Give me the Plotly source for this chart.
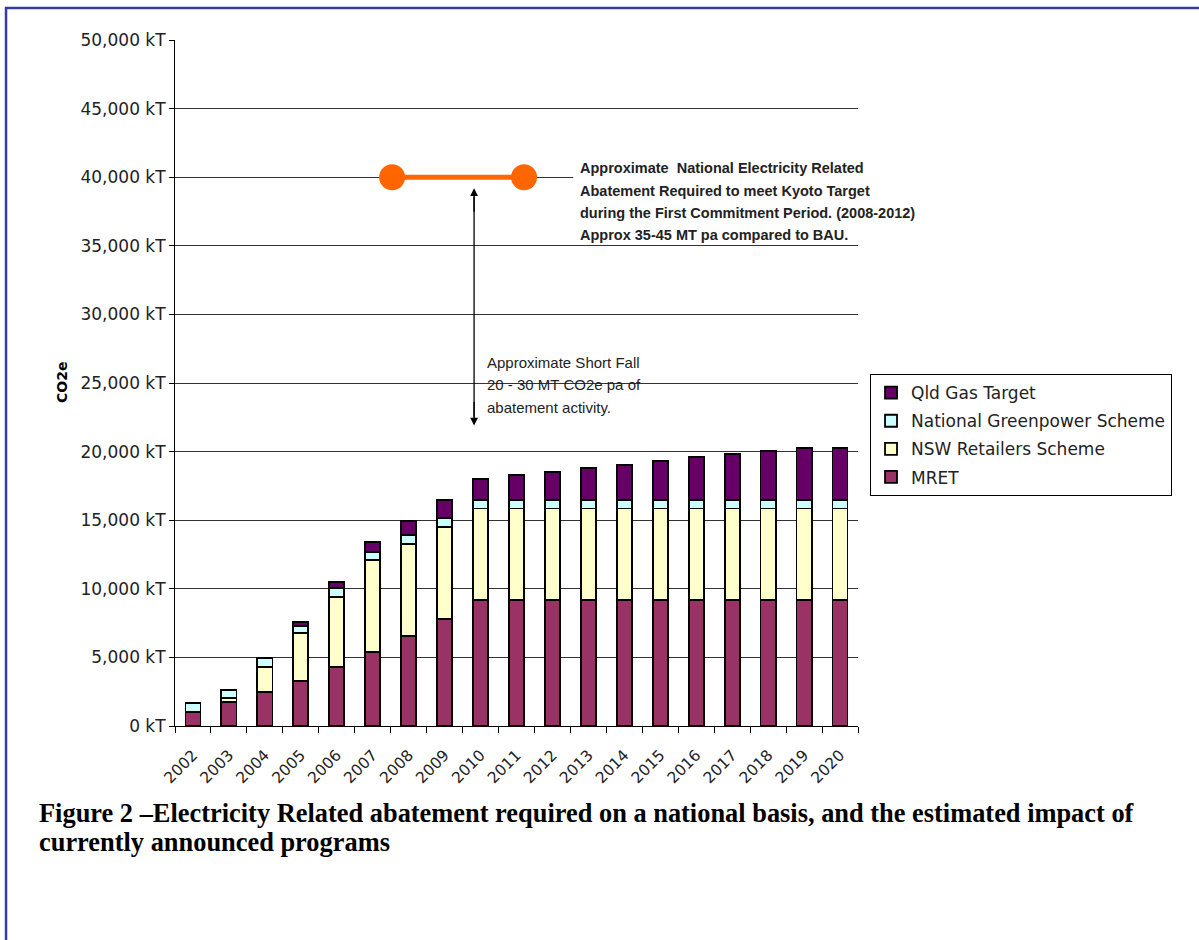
import plotly.graph_objects as go

years = list(range(2002, 2021))
year_labels = [str(y) for y in years]

mret = [1040, 1750, 2500, 3300, 4320, 5370, 6560, 7820, 9160, 9160, 9160, 9160, 9160, 9160, 9160, 9160, 9160, 9160, 9160]
nsw = [0, 320, 1820, 3450, 5060, 6730, 6720, 6710, 6700, 6700, 6700, 6700, 6700, 6700, 6700, 6700, 6700, 6700, 6700]
greenpower = [660, 550, 640, 560, 650, 600, 620, 610, 610, 610, 610, 610, 610, 610, 610, 610, 610, 610, 610]
qld_gas = [0, 0, 0, 250, 490, 730, 1030, 1310, 1530, 1800, 2070, 2330, 2550, 2820, 3110, 3330, 3600, 3790, 3790]

series_names = ["MRET", "NSW Retailers Scheme", "National Greenpower Scheme", "Qld Gas Target"]
series_values = [mret, nsw, greenpower, qld_gas]
series_colors = ["#993366", "#FFFFCC", "#CCFFFF", "#660066"]

kyoto_x = [2007.54, 2011.21]
kyoto_y = [40000, 40000]

arrow_x = 2009.82
arrow_top = 39200
arrow_bottom = 21900

y_ticks = list(range(0, 50001, 5000))
y_tick_labels = [f"{v:,} kT" for v in y_ticks]

kyoto_note = [
    "Approximate  National Electricity Related",
    "Abatement Required to meet Kyoto Target",
    "during the First Commitment Period. (2008-2012)",
    "Approx 35-45 MT pa compared to BAU.",
]
shortfall_note = [
    "Approximate Short Fall",
    "20 - 30 MT CO2e pa of",
    "abatement activity.",
]
caption_lines = [
    "Figure 2 –Electricity Related abatement required on a national basis, and the estimated impact of",
    "currently announced programs",
]

FONT = "Verdana, DejaVu Sans, sans-serif"
NOTE_FONT = "Tahoma, Liberation Sans, sans-serif"

fig = go.Figure()
n = len(series_names)
for i, (name, vals, col) in enumerate(zip(series_names, series_values, series_colors)):
    fig.add_trace(go.Bar(
        x=years, y=vals, name=name, width=0.42, legendgroup=name, legendrank=n - i,
        marker=dict(color=col, line=dict(color="#000000", width=1.8)),
    ))

fig.add_trace(go.Scatter(
    x=kyoto_x, y=kyoto_y, mode="lines+markers", showlegend=False,
    line=dict(color="#FF6600", width=5),
    marker=dict(color="#FF6600", size=26),
))

annotations = [
    dict(x=arrow_x, y=arrow_top, ax=0, ay=25, xref="x", yref="y",
         showarrow=True, arrowhead=2, arrowsize=1.2,
         arrowwidth=1.3, arrowcolor="#000000", text=""),
    dict(x=arrow_x, y=arrow_bottom, ax=0, ay=-25, xref="x", yref="y",
         showarrow=True, arrowhead=2, arrowsize=1.2,
         arrowwidth=1.3, arrowcolor="#000000", text=""),
    dict(x=-0.1654, y=0.5, xref="paper", yref="paper", xanchor="center", yanchor="middle",
         textangle=-90, showarrow=False,
         text="<b>CO2e</b>", font=dict(family=FONT, size=14, color="#000000")),
]

kyoto_y_pos = [0.8134, 0.7799, 0.7478, 0.7157]
for line, yp in zip(kyoto_note, kyoto_y_pos):
    annotations.append(dict(x=0.5900, y=yp, xref="paper", yref="paper", xanchor="left",
                            yanchor="middle", showarrow=False, text=f"<b>{line}</b>",
                            font=dict(family=NOTE_FONT, size=14.5, color="#222222")))

short_y_pos = [0.5292, 0.4971, 0.4650]
for line, yp in zip(shortfall_note, short_y_pos):
    annotations.append(dict(x=0.4539, y=yp, xref="paper", yref="paper", xanchor="left",
                            yanchor="middle", showarrow=False, text=line,
                            font=dict(family=NOTE_FONT, size=15, color="#222222")))

caption_y_pos = [-0.1268, -0.1691]
for line, yp in zip(caption_lines, caption_y_pos):
    annotations.append(dict(x=-0.2020, y=yp, xref="paper", yref="paper", xanchor="left",
                            yanchor="middle", showarrow=False, text=f"<b>{line}</b>",
                            font=dict(family="Liberation Serif, Times New Roman, serif",
                                      size=26.4, color="#000000")))

shapes = [
    dict(type="rect", xref="paper", yref="paper", x0=-0.2474, x1=1.508, y0=-0.33, y1=1.0466,
         line=dict(color="#3A3A9A", width=2.5), fillcolor="rgba(0,0,0,0)", layer="above"),
    dict(type="rect", xref="paper", yref="paper", x0=0.583, x1=1.0, y0=0.705, y1=0.83,
         line=dict(width=0), fillcolor="white", layer="above"),
    dict(type="line", xref="x", yref="y", x0=arrow_x, x1=arrow_x, y0=arrow_bottom + 600,
         y1=arrow_top - 600, line=dict(color="#000000", width=1.3), layer="above"),
]

fig.update_layout(
    width=1199, height=940,
    margin=dict(l=175, r=341, t=40, b=214),
    paper_bgcolor="white", plot_bgcolor="white",
    barmode="stack",
    font=dict(family=FONT, color="#222222"),
    xaxis=dict(
        range=[2001.5, 2020.5], tickvals=years, ticktext=year_labels,
        tickangle=-45, ticks="outside", ticklen=13, tickcolor="rgba(0,0,0,0)",
        showgrid=False, zeroline=False,
        showline=True, linecolor="#000000", linewidth=1,
        tickfont=dict(family=FONT, size=15.5, color="#222222"),
        minor=dict(tickvals=[y + 0.5 for y in range(2001, 2021)], ticks="outside",
                   ticklen=6, tickcolor="#000000", showgrid=False),
    ),
    yaxis=dict(
        range=[0, 50000], tickvals=y_ticks, ticktext=y_tick_labels,
        showgrid=True, gridcolor="#333333", gridwidth=1, zeroline=False,
        showline=True, linecolor="#000000", linewidth=1,
        ticks="outside", ticklen=5, tickcolor="#000000",
        tickfont=dict(family=FONT, size=17, color="#222222"),
    ),
    legend=dict(
        x=1.0176, y=0.513, xanchor="left", yanchor="top",
        traceorder="grouped", bordercolor="#000000", borderwidth=1,
        bgcolor="white", font=dict(family=FONT, size=17, color="#222222"),
        itemwidth=30, tracegroupgap=3,
    ),
    annotations=annotations,
    shapes=shapes,
)

fig.write_html("out.html")
